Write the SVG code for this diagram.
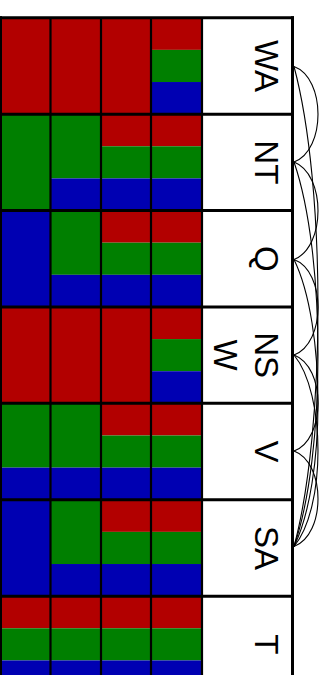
<svg xmlns="http://www.w3.org/2000/svg" width="325" height="675" viewBox="0 0 325 675">
<style>
.r{fill:#b20000}.g{fill:#007f00}.b{fill:#0000b2}.lab{fill:#fff}
.t{font-family:"Liberation Sans",Arial,Helvetica,sans-serif;font-size:33px;fill:#000;text-anchor:middle}
.hl{stroke:#000;stroke-width:3;fill:none}
.vl{stroke:#000;stroke-width:2.2;fill:none}
.e{stroke:#000;stroke-width:1.1;fill:none}
</style>
<rect width="325" height="675" fill="#fff"/>
<g id="node-WA">
<rect class="r" x="0" y="17.75" width="50.5" height="96.4"/>
<rect class="r" x="50.5" y="17.75" width="50.5" height="96.4"/>
<rect class="r" x="101" y="17.75" width="50" height="96.4"/>
<rect class="r" x="151" y="17.75" width="51" height="32.13"/>
<rect class="g" x="151" y="49.88" width="51" height="32.14"/>
<rect class="b" x="151" y="82.02" width="51" height="32.13"/>
<rect class="lab" x="202" y="17.75" width="90.5" height="96.4"/>
<text class="t" transform="translate(254.5,66) rotate(90)">WA</text>
</g>
<g id="node-NT">
<rect class="g" x="0" y="114.15" width="50.5" height="96.4"/>
<rect class="g" x="50.5" y="114.15" width="50.5" height="64.27"/>
<rect class="b" x="50.5" y="178.42" width="50.5" height="32.13"/>
<rect class="r" x="101" y="114.15" width="50" height="32.13"/>
<rect class="g" x="101" y="146.28" width="50" height="32.14"/>
<rect class="b" x="101" y="178.42" width="50" height="32.13"/>
<rect class="r" x="151" y="114.15" width="51" height="32.13"/>
<rect class="g" x="151" y="146.28" width="51" height="32.14"/>
<rect class="b" x="151" y="178.42" width="51" height="32.13"/>
<rect class="lab" x="202" y="114.15" width="90.5" height="96.4"/>
<text class="t" transform="translate(254.5,162.3) rotate(90)">NT</text>
</g>
<g id="node-Q">
<rect class="b" x="0" y="210.55" width="50.5" height="96.4"/>
<rect class="g" x="50.5" y="210.55" width="50.5" height="64.27"/>
<rect class="b" x="50.5" y="274.82" width="50.5" height="32.13"/>
<rect class="r" x="101" y="210.55" width="50" height="32.13"/>
<rect class="g" x="101" y="242.68" width="50" height="32.14"/>
<rect class="b" x="101" y="274.82" width="50" height="32.13"/>
<rect class="r" x="151" y="210.55" width="51" height="32.13"/>
<rect class="g" x="151" y="242.68" width="51" height="32.14"/>
<rect class="b" x="151" y="274.82" width="51" height="32.13"/>
<rect class="lab" x="202" y="210.55" width="90.5" height="96.4"/>
<text class="t" transform="translate(254.5,258.8) rotate(90)">Q</text>
</g>
<g id="node-NSW">
<rect class="r" x="0" y="306.95" width="50.5" height="96.4"/>
<rect class="r" x="50.5" y="306.95" width="50.5" height="96.4"/>
<rect class="r" x="101" y="306.95" width="50" height="96.4"/>
<rect class="r" x="151" y="306.95" width="51" height="32.13"/>
<rect class="g" x="151" y="339.08" width="51" height="32.14"/>
<rect class="b" x="151" y="371.22" width="51" height="32.13"/>
<rect class="lab" x="202" y="306.95" width="90.5" height="96.4"/>
<text class="t" transform="translate(254.5,355.2) rotate(90)">NS</text>
<text class="t" transform="translate(214,355.2) rotate(90)">W</text>
</g>
<g id="node-V">
<rect class="g" x="0" y="403.35" width="50.5" height="64.27"/>
<rect class="b" x="0" y="467.62" width="50.5" height="32.13"/>
<rect class="g" x="50.5" y="403.35" width="50.5" height="64.27"/>
<rect class="b" x="50.5" y="467.62" width="50.5" height="32.13"/>
<rect class="r" x="101" y="403.35" width="50" height="32.13"/>
<rect class="g" x="101" y="435.48" width="50" height="32.14"/>
<rect class="b" x="101" y="467.62" width="50" height="32.13"/>
<rect class="r" x="151" y="403.35" width="51" height="32.13"/>
<rect class="g" x="151" y="435.48" width="51" height="32.14"/>
<rect class="b" x="151" y="467.62" width="51" height="32.13"/>
<rect class="lab" x="202" y="403.35" width="90.5" height="96.4"/>
<text class="t" transform="translate(254.5,451.5) rotate(90)">V</text>
</g>
<g id="node-SA">
<rect class="b" x="0" y="499.75" width="50.5" height="96.4"/>
<rect class="g" x="50.5" y="499.75" width="50.5" height="64.27"/>
<rect class="b" x="50.5" y="564.02" width="50.5" height="32.13"/>
<rect class="r" x="101" y="499.75" width="50" height="32.13"/>
<rect class="g" x="101" y="531.88" width="50" height="32.14"/>
<rect class="b" x="101" y="564.02" width="50" height="32.13"/>
<rect class="r" x="151" y="499.75" width="51" height="32.13"/>
<rect class="g" x="151" y="531.88" width="51" height="32.14"/>
<rect class="b" x="151" y="564.02" width="51" height="32.13"/>
<rect class="lab" x="202" y="499.75" width="90.5" height="96.4"/>
<text class="t" transform="translate(254.5,548) rotate(90)">SA</text>
</g>
<g id="node-T">
<rect class="r" x="0" y="596.15" width="202" height="32.13"/>
<rect class="g" x="0" y="628.28" width="202" height="32.14"/>
<rect class="b" x="0" y="660.42" width="202" height="32.13"/>
<rect class="lab" x="202" y="596.15" width="90.5" height="96.4"/>
<text class="t" transform="translate(254.5,644.3) rotate(90)">T</text>
</g>
<g id="grid">
<path class="vl" d="M50.5 17.75V675M101 17.75V675M151 17.75V675M202 17.75V675"/>
<path class="hl" d="M0 17.75H294M0 114.15H294M0 210.55H294M0 306.95H294M0 403.35H294M0 499.75H294M0 596.15H294"/>
<path class="hl" d="M0.5 16.25V675M292.5 16.25V675"/>
</g>
<g id="connectors">
<path class="e" d="M294 66.5C326 78.2 326 150.3 294 162"/>
<path class="e" d="M294 66.5C326 185.9 326 427.1 294 546.5"/>
<path class="e" d="M294 162C326 174.3 326 247.2 294 259.5"/>
<path class="e" d="M294 162C326 254.7 326 453.8 294 546.5"/>
<path class="e" d="M294 259.5C326 271.2 326 343.3 294 355"/>
<path class="e" d="M294 259.5C326 324.9 326 481.1 294 546.5"/>
<path class="e" d="M294 355C326 366.9 326 439.1 294 451"/>
<path class="e" d="M294 355C326 393.6 326 507.9 294 546.5"/>
<path class="e" d="M294 451C326 462.7 326 534.8 294 546.5"/>
</g>
</svg>
